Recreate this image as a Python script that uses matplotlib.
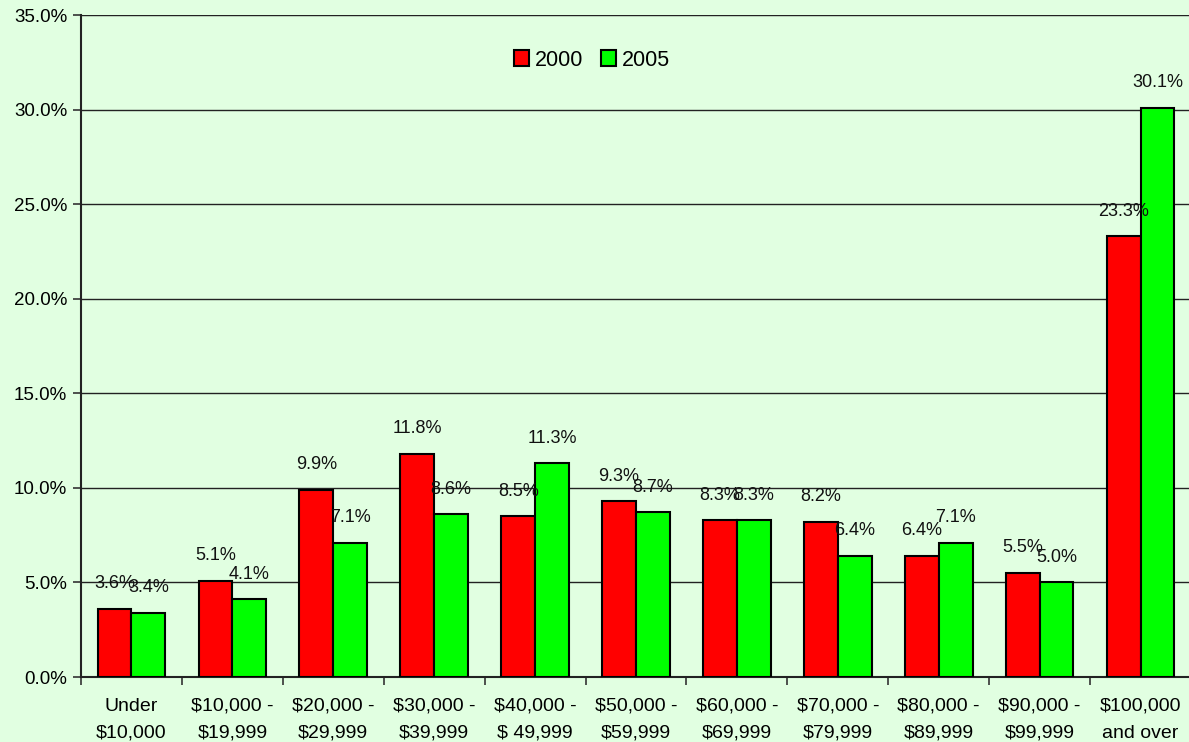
import numpy as np
import matplotlib.pyplot as plt
from matplotlib.ticker import FuncFormatter

# income brackets and share of households (%)
categories = ['Under\n$10,000', '$10,000 -\n$19,999', '$20,000 -\n$29,999', '$30,000 -\n$39,999',
              '$40,000 -\n$ 49,999', '$50,000 -\n$59,999', '$60,000 -\n$69,999', '$70,000 -\n$79,999',
              '$80,000 -\n$89,999', '$90,000 -\n$99,999', '$100,000\nand over']
share_2000 = [3.6, 5.1, 9.9, 11.8, 8.5, 9.3, 8.3, 8.2, 6.4, 5.5, 23.3]
share_2005 = [3.4, 4.1, 7.1, 8.6, 11.3, 8.7, 8.3, 6.4, 7.1, 5.0, 30.1]

bg = '#E1FFE1'
plt.rcParams['font.family'] = ['Liberation Sans', 'DejaVu Sans']

fig = plt.figure(figsize=(11.89, 7.42), dpi=100, facecolor=bg)
ax = fig.add_axes([81 / 1189, 65 / 742, 1110 / 1189, 662 / 742])
ax.set_facecolor(bg)

x = np.arange(len(categories))
w = 0.335
b1 = ax.bar(x - w / 2, share_2000, w, color='#FF0000', edgecolor='black', linewidth=1.5, label='2000', zorder=3)
b2 = ax.bar(x + w / 2, share_2005, w, color='#00FF00', edgecolor='black', linewidth=1.5, label='2005', zorder=3)

# value labels sit a fixed distance above each bar
for bars, vals in ((b1, share_2000), (b2, share_2005)):
    for bar, v in zip(bars, vals):
        ax.annotate(f'{v:.1f}%', (bar.get_x() + bar.get_width() / 2, bar.get_height()),
                    xytext=(0, 18), textcoords='offset points', ha='center', va='center',
                    fontsize=13, color='#111111', zorder=4)

ax.set_xlim(-0.5, len(categories) - 0.5)
ax.set_ylim(0, 35)
ax.set_yticks(np.arange(0, 36, 5))
ax.yaxis.set_major_formatter(FuncFormatter(lambda v, p: f'{v:.1f}%'))
ax.grid(axis='y', color='#222222', linewidth=1.0, zorder=0)

# ticks between groups, labels centred under groups
ax.set_xticks(np.arange(len(categories) + 1) - 0.5, minor=False)
ax.set_xticklabels([])
ax.set_xticks(x, minor=True)
ax.set_xticklabels(categories, minor=True, fontsize=14, linespacing=1.75)
ax.tick_params(axis='x', which='minor', length=0, pad=15)
ax.tick_params(axis='x', which='major', length=6, width=1.2, color='#333333')
ax.tick_params(axis='y', labelsize=13.5, length=6, width=1.2, color='#333333', pad=4)

for s in ['top', 'right']:
    ax.spines[s].set_visible(False)
for s in ['left', 'bottom']:
    ax.spines[s].set_linewidth(1.5)
    ax.spines[s].set_color('#222222')
ax.axhline(35, color='#999999', linewidth=1.5, zorder=1)

ax.legend(loc='center', bbox_to_anchor=(592 / 1189, 1 - 60 / 742), bbox_transform=fig.transFigure,
          ncol=2, frameon=False, fontsize=15.5, handlelength=0.7, handleheight=0.7,
          handletextpad=0.3, columnspacing=0.8)

fig.savefig('out.png', dpi=100, facecolor=bg)
